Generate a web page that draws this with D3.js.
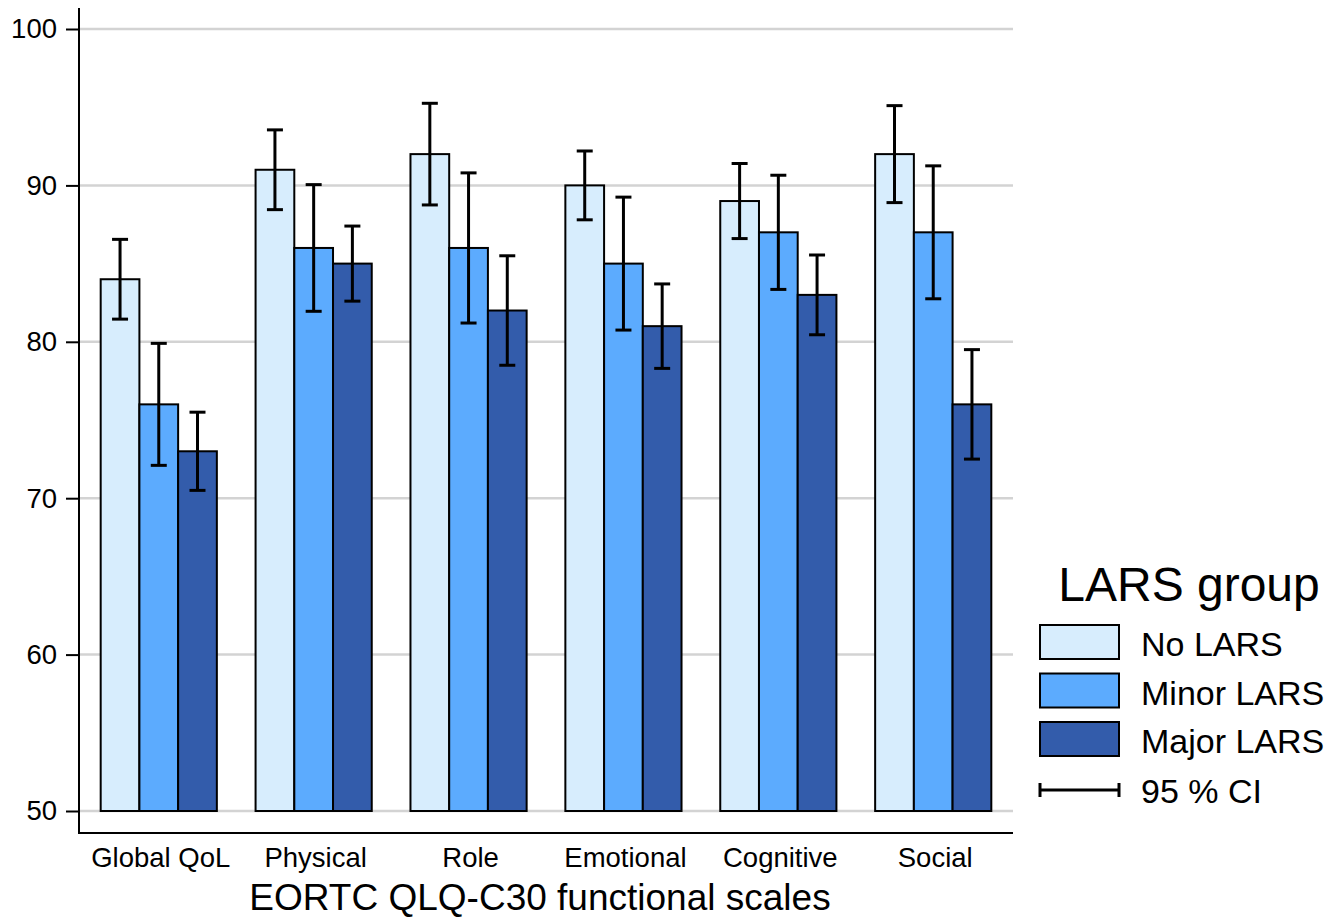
<!DOCTYPE html>
<html>
<head>
<meta charset="utf-8">
<script src="https://cdn.jsdelivr.net/npm/d3@7"></script>
<style>
body { margin: 0; background: #fff; }
svg { display: block; font-family: "Liberation Sans", Arial, sans-serif; }
</style>
</head>
<body>
<svg id="chart" width="1335" height="920"></svg>
<script>
const categories = ["Global QoL", "Physical", "Role", "Emotional", "Cognitive", "Social"];
const groups = ["No LARS", "Minor LARS", "Major LARS"];
const colors = ["#d7edfd", "#5cabfe", "#335cab"];
const noLars    = [84, 91, 92, 90, 89, 92];
const minorLars = [76, 86, 86, 85, 87, 87];
const majorLars = [73, 85, 82, 81, 83, 76];
const noLarsCI    = [[81.45, 86.55], [88.45, 93.55], [88.75, 95.25], [87.8, 92.2], [86.6, 91.4], [88.9, 95.1]];
const minorLarsCI = [[72.1, 79.9], [81.95, 90.05], [81.2, 90.8], [80.75, 89.25], [83.35, 90.65], [82.75, 91.25]];
const majorLarsCI = [[70.5, 75.5], [82.6, 87.4], [78.5, 85.5], [78.3, 83.7], [80.45, 85.55], [72.5, 79.5]];
const yTicks = [50, 60, 70, 80, 90, 100];
const xTitle = "EORTC QLQ-C30 functional scales";
const legendTitle = "LARS group";
const ciLabel = "95 % CI";

const values = [noLars, minorLars, majorLars];
const cis = [noLarsCI, minorLarsCI, majorLarsCI];
const data = [];
categories.forEach((c, i) => groups.forEach((g, j) => {
  data.push({cat: c, grp: g, gi: j, v: values[j][i], lo: cis[j][i][0], hi: cis[j][i][1]});
}));

const svg = d3.select("#chart");
const left = 79, right = 1013;
const y = d3.scaleLinear().domain([50, 100]).range([811, 29]);
const x0 = d3.scaleBand().domain(categories).range([left, right]).paddingInner(0.25).paddingOuter(0.14);
const x1 = d3.scaleBand().domain(groups).range([0, x0.bandwidth()]);
const color = d3.scaleOrdinal().domain(groups).range(colors);

// grid
svg.append("g").selectAll("line").data(yTicks).join("line")
  .attr("x1", left).attr("x2", right)
  .attr("y1", d => y(d)).attr("y2", d => y(d))
  .attr("stroke", "#d3d3d3").attr("stroke-width", 2.5);

// y axis
const yAxis = svg.append("g").attr("transform", `translate(${left},0)`)
  .call(d3.axisLeft(y).tickValues(yTicks).tickSize(13).tickSizeOuter(0).tickPadding(9));
yAxis.attr("font-size", 27.5).attr("font-family", "Liberation Sans, Arial, sans-serif");
yAxis.select(".domain").remove();
yAxis.selectAll(".tick line").attr("stroke", "#000").attr("stroke-width", 2);
yAxis.selectAll(".tick text").attr("fill", "#000");
svg.append("line").attr("x1", left).attr("x2", left)
  .attr("y1", 8).attr("y2", 834).attr("stroke", "#000").attr("stroke-width", 2);
// x axis line
svg.append("line").attr("x1", left - 1).attr("x2", right)
  .attr("y1", 833).attr("y2", 833).attr("stroke", "#000").attr("stroke-width", 2);

// bars
const gBars = svg.append("g");
gBars.selectAll("rect").data(data).join("rect")
  .attr("x", d => x0(d.cat) + x1(d.grp))
  .attr("width", x1.bandwidth())
  .attr("y", d => y(d.v))
  .attr("height", d => y(50) - y(d.v))
  .attr("fill", d => color(d.grp))
  .attr("stroke", "#000").attr("stroke-width", 2);

// error bars
const gErr = svg.append("g").attr("stroke", "#000").attr("stroke-width", 3);
const cx = d => x0(d.cat) + x1(d.grp) + x1.bandwidth() / 2;
gErr.selectAll(".stem").data(data).join("line")
  .attr("x1", cx).attr("x2", cx)
  .attr("y1", d => y(d.lo)).attr("y2", d => y(d.hi));
gErr.selectAll(".capT").data(data).join("line")
  .attr("x1", d => cx(d) - 8).attr("x2", d => cx(d) + 8)
  .attr("y1", d => y(d.hi)).attr("y2", d => y(d.hi));
gErr.selectAll(".capB").data(data).join("line")
  .attr("x1", d => cx(d) - 8).attr("x2", d => cx(d) + 8)
  .attr("y1", d => y(d.lo)).attr("y2", d => y(d.lo));

// category labels
svg.append("g").selectAll("text").data(categories).join("text")
  .attr("x", d => x0(d) + x0.bandwidth() / 2 + 2)
  .attr("y", 867)
  .attr("text-anchor", "middle")
  .attr("font-size", 27.5)
  .text(d => d);

svg.append("text").attr("x", 540).attr("y", 910)
  .attr("text-anchor", "middle").attr("font-size", 37).text(xTitle);

// legend
const lg = svg.append("g");
lg.append("text").attr("x", 1189).attr("y", 601).attr("text-anchor", "middle")
  .attr("font-size", 48).text(legendTitle);
groups.forEach((g, i) => {
  const yy = 625 + i * 48.5;
  lg.append("rect").attr("x", 1040).attr("y", yy).attr("width", 79).attr("height", 34)
    .attr("fill", colors[i]).attr("stroke", "#000").attr("stroke-width", 2);
  lg.append("text").attr("x", 1141).attr("y", yy + 31).attr("font-size", 34).text(g);
});
const ly = 790;
lg.append("line").attr("x1", 1040).attr("x2", 1119).attr("y1", ly).attr("y2", ly)
  .attr("stroke", "#000").attr("stroke-width", 3);
[1040, 1119].forEach(xx => lg.append("line").attr("x1", xx).attr("x2", xx)
  .attr("y1", ly - 7).attr("y2", ly + 7).attr("stroke", "#000").attr("stroke-width", 3));
lg.append("text").attr("x", 1141).attr("y", ly + 13).attr("font-size", 34).text(ciLabel);
</script>
</body>
</html>
